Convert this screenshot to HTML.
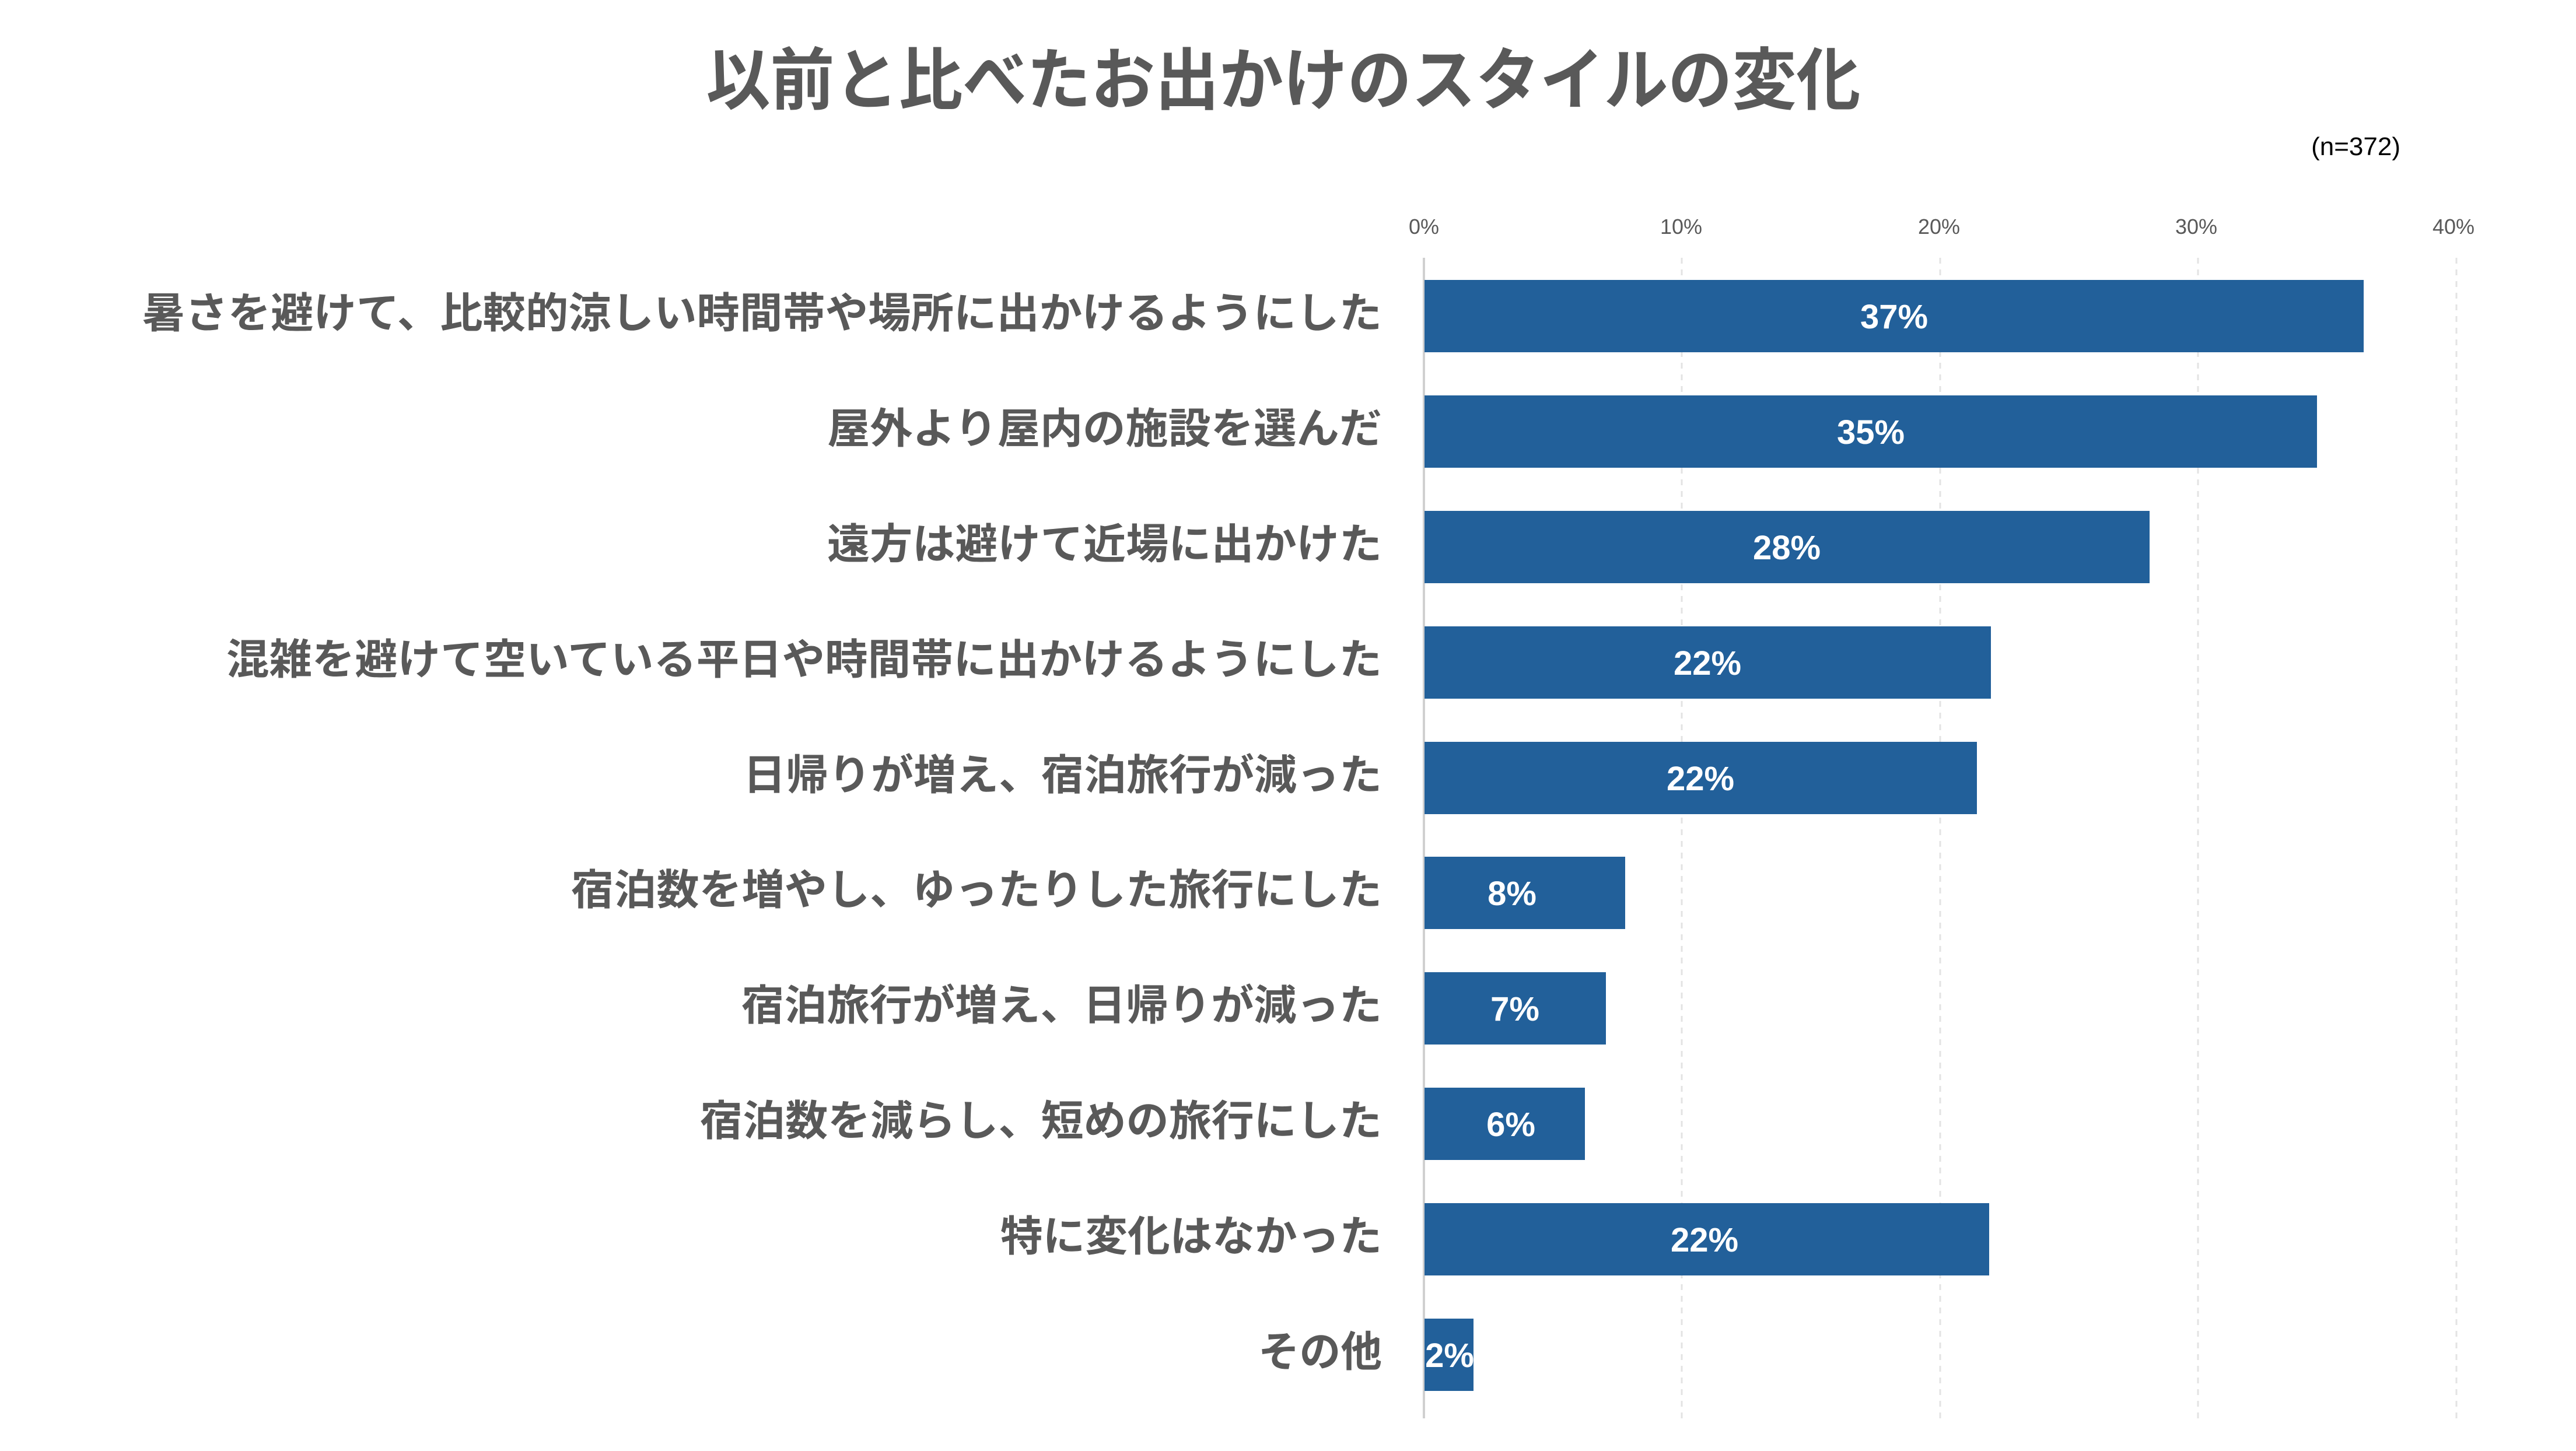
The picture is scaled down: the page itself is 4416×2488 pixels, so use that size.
<!DOCTYPE html>
<html><head><meta charset="utf-8"><style>
html,body{margin:0;padding:0;background:#fff;}
svg{display:block;}
</style></head><body>
<svg width="4416" height="2488" viewBox="0 0 4416 2488" xmlns="http://www.w3.org/2000/svg">
<rect width="4416" height="2488" fill="#fff"/>
<text x="2200" y="178" text-anchor="middle" font-family="'Liberation Sans','Noto Sans CJK JP',sans-serif" font-weight="bold" font-size="116" fill="#595959" textLength="1979" lengthAdjust="spacingAndGlyphs">以前と比べたお出かけのスタイルの変化</text>
<text x="4115" y="266" text-anchor="end" font-family="'Liberation Sans',sans-serif" font-size="44" fill="#000">(n=372)</text>
<g font-family="'Liberation Sans',sans-serif" font-size="36" fill="#595959" text-anchor="middle">
<text x="2441" y="401">0%</text><text x="2882" y="401">10%</text><text x="3324" y="401">20%</text><text x="3765" y="401">30%</text><text x="4206" y="401">40%</text>
</g>
<g stroke="#e3e3e3" stroke-width="3" stroke-dasharray="10,10">
<line x1="2883" y1="442" x2="2883" y2="2432"/><line x1="3326" y1="442" x2="3326" y2="2432"/><line x1="3768" y1="442" x2="3768" y2="2432"/><line x1="4211" y1="442" x2="4211" y2="2432"/>
</g>
<line x1="2441" y1="442" x2="2441" y2="2432" stroke="#d0d0d0" stroke-width="4"/>
<g fill="#22609a">
<rect x="2442" y="480" width="1610" height="124"/>
<rect x="2442" y="678" width="1530" height="124"/>
<rect x="2442" y="876" width="1243" height="124"/>
<rect x="2442" y="1074" width="971" height="124"/>
<rect x="2442" y="1272" width="947" height="124"/>
<rect x="2442" y="1469" width="344" height="124"/>
<rect x="2442" y="1667" width="311" height="124"/>
<rect x="2442" y="1865" width="275" height="124"/>
<rect x="2442" y="2063" width="968" height="124"/>
<rect x="2442" y="2261" width="84" height="124"/>
</g>
<g font-family="'Liberation Sans',sans-serif" font-weight="bold" font-size="58" fill="#fff" text-anchor="middle">
<text x="3247" y="563">37%</text>
<text x="3207" y="761">35%</text>
<text x="3063" y="959">28%</text>
<text x="2927" y="1157">22%</text>
<text x="2915" y="1355">22%</text>
<text x="2592" y="1552">8%</text>
<text x="2597" y="1750">7%</text>
<text x="2590" y="1948">6%</text>
<text x="2922" y="2146">22%</text>
<text x="2485" y="2344">2%</text>
</g>
<g font-family="'Liberation Sans','Noto Sans CJK JP',sans-serif" font-weight="bold" font-size="72" fill="#595959" text-anchor="end">
<text x="2369" y="562" textLength="2125" lengthAdjust="spacingAndGlyphs">暑さを避けて、比較的涼しい時間帯や場所に出かけるようにした</text>
<text x="2369" y="760" textLength="951" lengthAdjust="spacingAndGlyphs">屋外より屋内の施設を選んだ</text>
<text x="2369" y="958" textLength="951" lengthAdjust="spacingAndGlyphs">遠方は避けて近場に出かけた</text>
<text x="2369" y="1156" textLength="1981" lengthAdjust="spacingAndGlyphs">混雑を避けて空いている平日や時間帯に出かけるようにした</text>
<text x="2369" y="1354" textLength="1095" lengthAdjust="spacingAndGlyphs">日帰りが増え、宿泊旅行が減った</text>
<text x="2369" y="1551" textLength="1390" lengthAdjust="spacingAndGlyphs">宿泊数を増やし、ゆったりした旅行にした</text>
<text x="2369" y="1749" textLength="1098" lengthAdjust="spacingAndGlyphs">宿泊旅行が増え、日帰りが減った</text>
<text x="2369" y="1947" textLength="1169" lengthAdjust="spacingAndGlyphs">宿泊数を減らし、短めの旅行にした</text>
<text x="2369" y="2145" textLength="654" lengthAdjust="spacingAndGlyphs">特に変化はなかった</text>
<text x="2369" y="2343" textLength="212" lengthAdjust="spacingAndGlyphs">その他</text>
</g>
</svg>
</body></html>
